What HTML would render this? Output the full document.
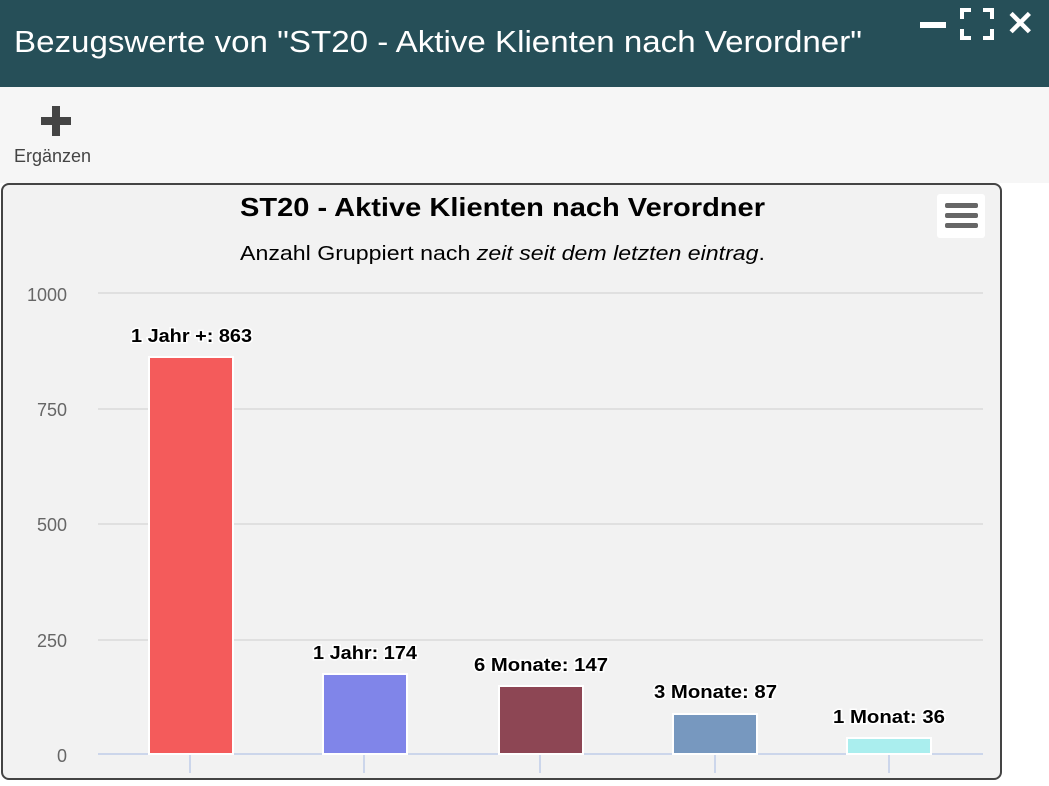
<!DOCTYPE html>
<html><head><meta charset="utf-8"><style>
body{margin:0;width:1049px;height:786px;background:#fff;font-family:"Liberation Sans",sans-serif;position:relative;overflow:hidden}
.hdr{position:absolute;left:0;top:0;width:1049px;height:87px;background:#264f58;color:#fff}
.tb{position:absolute;left:0;top:87px;width:1049px;height:96px;background:#f6f6f6}
.box{position:absolute;left:1px;top:183px;width:1001px;height:597px;border:2px solid #444;border-radius:8px;background:#f2f2f2;box-sizing:border-box}
</style></head><body>
<div class="hdr">
<div style="position:absolute;left:920px;top:22px;width:26px;height:6px;background:#fff"></div>
<svg style="position:absolute;left:960px;top:8px" width="34" height="32"><path d="M2 11V2h9M23 2h9v9M32 21v9h-9M11 30H2v-9" stroke="#fff" stroke-width="4" fill="none"/></svg>
<div style="position:absolute;left:1006px;top:4px;font-size:34px;font-weight:bold">✕</div>
</div>
<div class="tb">
<div style="position:absolute;left:41px;top:30px;width:30px;height:8px;background:#444"></div>
<div style="position:absolute;left:52px;top:19px;width:8px;height:30px;background:#444"></div>
<div style="position:absolute;left:14px;top:59px;font-size:18px;color:#444">Ergänzen</div>
</div>
<div class="box"></div>
<svg style="position:absolute;left:0;top:0" width="1049" height="786" font-family="Liberation Sans, sans-serif">
<text x="14" y="52" font-size="31" fill="#fff" textLength="848" lengthAdjust="spacingAndGlyphs">Bezugswerte von "ST20 - Aktive Klienten nach Verordner"</text>
<text x="240" y="216" font-size="26" font-weight="bold" fill="#000" textLength="525" lengthAdjust="spacingAndGlyphs">ST20 - Aktive Klienten nach Verordner</text>
<text x="240" y="260" font-size="20" fill="#000" textLength="525" lengthAdjust="spacingAndGlyphs">Anzahl Gruppiert nach <tspan font-style="italic">zeit seit dem letzten eintrag</tspan>.</text>
<rect x="937" y="194" width="48" height="44" rx="3" fill="#fff"/>
<g fill="#666"><rect x="945" y="203" width="33" height="5" rx="2"/><rect x="945" y="213" width="33" height="5" rx="2"/><rect x="945" y="223" width="33" height="5" rx="2"/></g>
<g stroke="#e0e0e0" stroke-width="2"><line x1="98" x2="983" y1="293" y2="293"/><line x1="98" x2="983" y1="409" y2="409"/><line x1="98" x2="983" y1="524" y2="524"/><line x1="98" x2="983" y1="640" y2="640"/></g>
<g font-size="18" fill="#666" text-anchor="end"><text x="67" y="301">1000</text><text x="67" y="416">750</text><text x="67" y="531">500</text><text x="67" y="647">250</text><text x="67" y="762">0</text></g>
<g stroke="#ccd6eb" stroke-width="2"><line x1="98" x2="983" y1="754" y2="754"/><line x1="190" x2="190" y1="754" y2="773"/><line x1="364" x2="364" y1="754" y2="773"/><line x1="540" x2="540" y1="754" y2="773"/><line x1="715" x2="715" y1="754" y2="773"/><line x1="889" x2="889" y1="754" y2="773"/></g>
<g stroke="#fff" stroke-width="2">
<rect x="149" y="357" width="84" height="397" fill="#f45b5b"/>
<rect x="323" y="674" width="84" height="80" fill="#8085e9"/>
<rect x="499" y="686" width="84" height="68" fill="#8d4654"/>
<rect x="673" y="714" width="84" height="40" fill="#7798bf"/>
<rect x="847" y="738" width="84" height="16" fill="#aaeeee"/>
</g>
<g font-size="18" font-weight="bold" fill="#000" stroke="#fff" stroke-width="3" paint-order="stroke" lengthAdjust="spacingAndGlyphs">
<text x="131" y="342" textLength="121" lengthAdjust="spacingAndGlyphs">1 Jahr +: 863</text>
<text x="313" y="659" textLength="104" lengthAdjust="spacingAndGlyphs">1 Jahr: 174</text>
<text x="474" y="671" textLength="134" lengthAdjust="spacingAndGlyphs">6 Monate: 147</text>
<text x="654" y="698" textLength="123" lengthAdjust="spacingAndGlyphs">3 Monate: 87</text>
<text x="833" y="723" textLength="112" lengthAdjust="spacingAndGlyphs">1 Monat: 36</text>
</g>
</svg>
</body></html>
